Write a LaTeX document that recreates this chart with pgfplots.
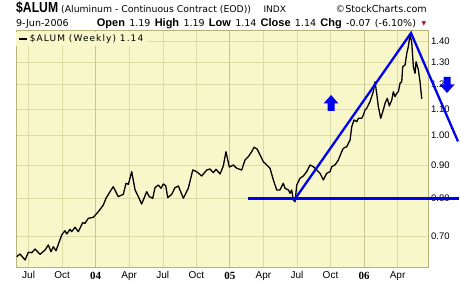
\documentclass[border=0pt]{standalone}
\usepackage{fontspec}
\setmainfont{DejaVu Sans}
\newfontfamily\arial{Liberation Sans}
\newfontfamily\albold[FakeStretch=0.84]{Liberation Sans Bold}
\newfontfamily\tnr{Liberation Serif}
\newfontfamily\legfont[LetterSpace=12]{DejaVu Sans}
\newfontfamily\symfont{DejaVu Sans}
\usepackage{pgfplots}
\pgfplotsset{compat=1.18}
\definecolor{bg}{HTML}{F8F7C9}
\definecolor{gridc}{HTML}{DCDCA6}
\definecolor{yeargrid}{HTML}{C6C68E}
\definecolor{frame}{HTML}{B4B47A}
\definecolor{tblue}{HTML}{0000F0}
\definecolor{chgred}{HTML}{A01030}
\pgfdeclareplotmark{uparr}{%
 \pgfpathmoveto{\pgfqpoint{0pt}{8pt}}%
 \pgfpathlineto{\pgfqpoint{7.5pt}{-0.5pt}}%
 \pgfpathlineto{\pgfqpoint{3.5pt}{-0.5pt}}%
 \pgfpathlineto{\pgfqpoint{3.5pt}{-8pt}}%
 \pgfpathlineto{\pgfqpoint{-3.5pt}{-8pt}}%
 \pgfpathlineto{\pgfqpoint{-3.5pt}{-0.5pt}}%
 \pgfpathlineto{\pgfqpoint{-7.5pt}{-0.5pt}}%
 \pgfpathclose\pgfusepathqfill}
\pgfdeclareplotmark{dnarr}{%
 \pgfpathmoveto{\pgfqpoint{0pt}{-8pt}}%
 \pgfpathlineto{\pgfqpoint{7.5pt}{0.5pt}}%
 \pgfpathlineto{\pgfqpoint{3.5pt}{0.5pt}}%
 \pgfpathlineto{\pgfqpoint{3.5pt}{8pt}}%
 \pgfpathlineto{\pgfqpoint{-3.5pt}{8pt}}%
 \pgfpathlineto{\pgfqpoint{-3.5pt}{0.5pt}}%
 \pgfpathlineto{\pgfqpoint{-7.5pt}{0.5pt}}%
 \pgfpathclose\pgfusepathqfill}
\newcommand\bw[1]{{\arial\bfseries\fontsize{11}{11}\selectfont #1}}
\newcommand\nw[1]{{\fontsize{9.5}{10}\selectfont #1}}
\newcommand\gp{\hspace{4.3pt}}
\begin{document}
\begin{tikzpicture}
\path (0pt,0pt) rectangle (460pt,284pt);
\begin{axis}[
 at={(16pt,17pt)}, anchor=south west, scale only axis,
 width=412pt, height=236.5pt,
 xmin=4.87, xmax=41.72, ymode=log, ymin=0.627, ymax=1.4535,
 clip=false, set layers,
 axis background/.style={fill=bg},
 axis line style={draw=frame, line width=0.8pt},
 xtick={6,9,15,18,21,27,30,33,39},
 xticklabels={Jul,Oct,Apr,Jul,Oct,Apr,Jul,Oct,Apr},
 extra x ticks={12,24,36}, extra x tick labels={04,05,06},
 extra x tick style={grid style={yeargrid, line width=0.8pt},
   xticklabel style={font=\tnr\bfseries\fontsize{11}{11}\selectfont}},
 ytick={0.7,0.8,0.9,1.0,1.1,1.2,1.3,1.4},
 yticklabels={0.70,0.80,0.90,1.00,1.10,1.20,1.30,1.40},
 yticklabel pos=right,
 xmajorgrids, ymajorgrids, grid style={gridc, line width=0.6pt},
 major tick length=0pt,
 xticklabel style={font=\arial\fontsize{10}{10}\selectfont, inner sep=0pt, anchor=north, yshift=-4.5pt},
 yticklabel style={font=\arial\fontsize{9.5}{10}\selectfont, inner sep=0pt, anchor=west, xshift=3pt},
 legend style={at={(0,1)}, anchor=north west, fill=bg, draw=none,
   inner xsep=2pt, inner ysep=1pt, yshift=-1pt, font=\legfont\fontsize{9}{10}\selectfont,
   /tikz/every even column/.append style={column sep=2pt}},
 legend cell align=left,
 legend image code/.code={\draw[line width=2.2pt] (0pt,0pt) -- (7.5pt,0pt);},
]
\addplot[black, line width=1.3pt, line join=round] coordinates {
(4.93,0.6504)(5.23,0.6567)(5.68,0.6428)(5.97,0.6607)(6.28,0.6597)(6.57,0.6684)(7.02,0.6560)(7.47,0.6661)(7.76,0.6780)(8.00,0.6621)(8.21,0.6739)(8.45,0.6644)(8.96,0.7026)(9.25,0.7134)(9.41,0.7051)(9.70,0.7170)(9.85,0.7109)(10.15,0.7221)(10.44,0.7109)(10.84,0.7340)(11.04,0.7324)(11.34,0.7456)(11.79,0.7482)(12.23,0.7633)(12.68,0.7816)(12.92,0.8005)(13.28,0.8195)(13.57,0.8342)(14.02,0.8051)(14.47,0.8120)(14.71,0.8443)(14.92,0.8413)(15.22,0.8799)(15.52,0.8245)(15.81,0.8051)(16.11,0.7844)(16.56,0.8195)(16.79,0.8051)(17.10,0.8005)(17.30,0.8312)(17.60,0.8392)(17.84,0.8294)(18.05,0.8422)(18.26,0.8372)(18.44,0.8022)(18.80,0.8120)(19.09,0.8312)(19.39,0.8363)(19.84,0.8005)(20.28,0.8294)(20.68,0.8852)(21.03,0.8799)(21.48,0.8665)(21.93,0.8852)(22.22,0.8883)(22.52,0.8768)(22.76,0.8874)(23.12,0.8727)(23.41,0.8979)(23.65,0.9447)(23.95,0.8947)(24.31,0.9011)(24.61,0.8906)(25.06,0.8852)(25.35,0.9172)(25.65,0.9281)(25.95,0.9447)(26.16,0.9596)(26.43,0.9538)(26.70,0.9337)(26.99,0.9117)(27.30,0.9011)(27.59,0.8906)(27.89,0.8543)(28.19,0.8245)(28.48,0.8245)(28.78,0.8443)(28.93,0.8294)(29.23,0.8245)(29.38,0.8148)(29.53,0.8245)(29.67,0.7957)(29.83,0.7909)(29.98,0.8392)(30.27,0.8595)(30.57,0.8665)(30.87,0.8799)(31.17,0.9011)(31.46,0.8957)(31.77,0.8852)(32.06,0.8749)(32.36,0.8543)(32.66,0.8749)(32.96,0.8799)(33.11,0.8957)(33.40,0.9011)(33.70,0.9172)(34.00,0.9447)(34.15,0.9562)(34.45,0.9616)(34.75,0.9848)(34.90,1.0325)(35.10,1.0574)(35.35,1.0510)(35.49,1.0638)(35.79,1.0638)(35.94,1.0764)(36.09,1.0957)(36.24,1.1023)(36.53,1.1285)(36.83,1.1693)(36.98,1.2116)(37.13,1.1627)(37.28,1.1086)(37.49,1.0638)(37.72,1.0957)(37.88,1.1221)(38.08,1.1422)(38.26,1.1114)(38.48,1.1353)(38.62,1.1693)(38.77,1.1487)(38.92,1.1627)(39.07,1.1693)(39.22,1.2048)(39.37,1.2116)(39.46,1.2780)(39.67,1.2857)(39.82,1.3403)(39.96,1.3722)(40.11,1.4305)(40.26,1.3968)(40.41,1.2780)(40.56,1.2483)(40.65,1.3009)(40.86,1.2631)(41.01,1.2100)(41.16,1.1400)
};
\addlegendentry{\$ALUM (Weekly) 1.14}
\addplot[tblue, line width=2.3pt, forget plot] coordinates {(25.62,0.80) (44.45,0.80)};
\addplot[tblue, line width=2.3pt, forget plot] coordinates {(29.74,0.795) (40.20,1.4407) (44.40,0.980)};
\addplot[only marks, mark=uparr, tblue, forget plot] coordinates {(33.05,1.1233)};
\addplot[only marks, mark=dnarr, tblue, forget plot] coordinates {(43.42,1.1975)};
\end{axis}
% header line 1
\node[anchor=base west, inner sep=0] at (16pt,271pt) {\albold\fontsize{14.5}{14.5}\selectfont \$ALUM};
\node[anchor=base west, inner sep=0] at (61pt,271.3pt) {\fontsize{9.3}{10}\selectfont (Aluminum - Continuous Contract (EOD))};
\node[anchor=base west, inner sep=0] at (263.3pt,271.3pt) {\fontsize{9}{10}\selectfont INDX};
\node[anchor=base east, inner sep=0] at (427pt,271.3pt) {\fontsize{9.6}{10}\selectfont \textcolor{black!85}{\symfont ©}StockCharts.com};
% header line 2
\node[anchor=base west, inner sep=0] at (16pt,257.3pt) {\fontsize{9.5}{10}\selectfont 9-Jun-2006};
\node[anchor=base west, inner sep=0] at (96.7pt,257.3pt) {\bw{Open}\gp\nw{1.19}\gp\bw{High}\gp\nw{1.19}\gp\bw{Low}\gp\nw{1.14}\gp\bw{Close}\gp\nw{1.14}\gp\bw{Chg}\gp\nw{-0.07}\gp\nw{(-6.10\%)}};
\node[anchor=base, inner sep=0] at (424pt,258pt) {\textcolor{chgred}{\fontsize{6}{6}\selectfont ▼}};
\end{tikzpicture}
\end{document}
